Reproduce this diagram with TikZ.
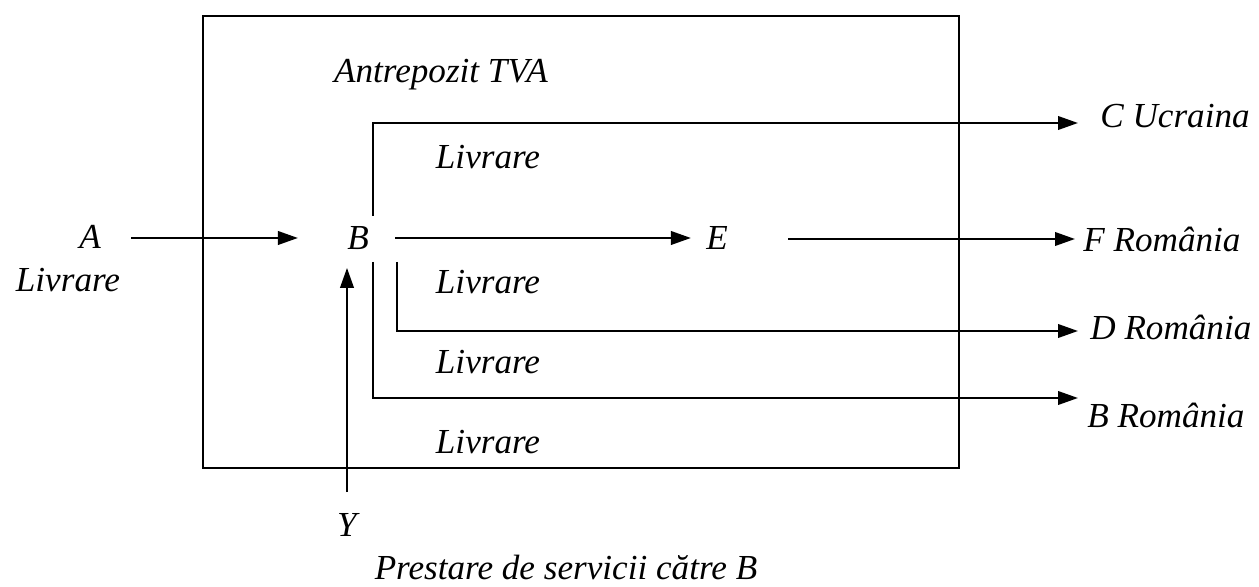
\documentclass[tikz,border=0pt]{standalone}
\usepackage{fontspec}
\setmainfont{Liberation Serif}
\usetikzlibrary{arrows.meta}
\begin{document}
\begin{tikzpicture}[x=0.02cm,y=-0.02cm,
  line/.style={line width=1.3pt},
  arr/.style={line, -{Triangle[length=0.4cm,width=0.27cm]}},
  lbl/.style={font=\fontsize{20}{23}\selectfont\itshape, inner sep=0pt}]
\useasboundingbox (0,0) rectangle (1259,587);
% warehouse box
\node[draw, line width=1.1pt, minimum width=15.12cm, minimum height=9.04cm, anchor=north west, inner sep=0pt] (box) at (202,15) {};
\node[lbl] (title) at (441,75) {Antrepozit TVA};
% main nodes
\node[lbl] (A) at (90,237) {A};
\node[lbl] (Alab) at (68,280) {Livrare};
\node[lbl] (B) at (358,238) {B};
\node[lbl] (E) at (717,238) {E};
\node[lbl] (Y) at (347,525) {Y};
\node[lbl] (P) at (566,567) {Prestare de servicii către B};
% delivery labels inside box
\node[lbl] (L1) at (488,157) {Livrare};
\node[lbl] (L2) at (488,282) {Livrare};
\node[lbl] (L3) at (488,362) {Livrare};
\node[lbl] (L4) at (488,442) {Livrare};
% arrow tips and destination labels
\coordinate (tC) at (1078,123);
\coordinate (tF) at (1075,239);
\coordinate (tD) at (1078,331);
\coordinate (tB) at (1078,398);
\node[lbl, anchor=base west] (C) at (1100,128) {C Ucraina};
\node[lbl, anchor=base west] (F) at (1083,252) {F România};
\node[lbl, anchor=base west] (D) at (1090,340) {D România};
\node[lbl, anchor=base west] (BR) at (1087,428) {B România};
% branch start points next to B
\coordinate (c0) at (373,216);
\coordinate (d0) at (397,262);
\coordinate (b0) at (373,262);
% connectors
\draw[arr, shorten <=0.6cm, shorten >=0.98cm] (A.east |- B.west) -- (B.west);
\draw[arr, shorten <=0.52cm, shorten >=0.3cm] (B.east) -- (E.west);
\draw[arr, shorten <=1.2cm] (E.east |- tF) -- (tF);
\draw[arr] (c0) |- (tC);
\draw[arr] (d0) |- (tD);
\draw[arr] (b0) |- (tB);
\draw[arr, shorten <=0.42cm, shorten >=0.36cm] (Y.north) -- (Y.north |- B.south);
\end{tikzpicture}
\end{document}
